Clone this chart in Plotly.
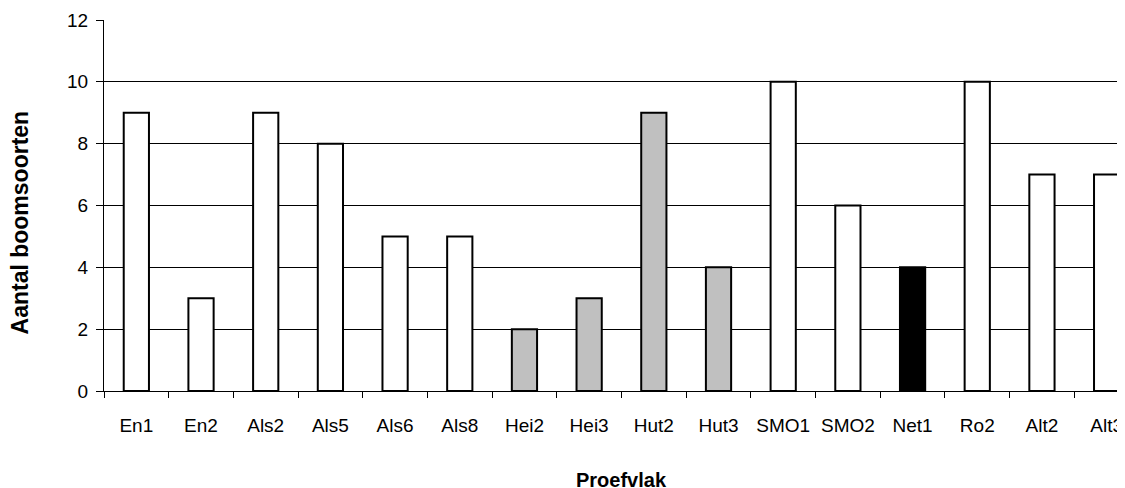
import plotly.graph_objects as go

categories = ["En1", "En2", "Als2", "Als5", "Als6", "Als8", "Hei2", "Hei3",
              "Hut2", "Hut3", "SMO1", "SMO2", "Net1", "Ro2", "Alt2", "Alt3"]
values = [9, 3, 9, 8, 5, 5, 2, 3, 9, 4, 10, 6, 4, 10, 7, 7]
bar_colors = ["#FFFFFF"] * 6 + ["#C0C0C0"] * 4 + ["#FFFFFF"] * 2 + ["#000000"] + ["#FFFFFF"] * 3
y_ticks = [0, 2, 4, 6, 8, 10, 12]

fig = go.Figure(go.Bar(
    x=categories, y=values, width=0.39,
    marker=dict(color=bar_colors, line=dict(color="#000000", width=2)),
))

FONT = "Liberation Sans, Arial, sans-serif"
fig.update_layout(
    width=1117, height=480,
    margin=dict(l=96, r=0, t=12, b=97),
    paper_bgcolor="white", plot_bgcolor="white",
    showlegend=False,
    font=dict(family=FONT, size=19, color="#000000"),
    xaxis=dict(
        type="category", range=[-0.5, 15.284],
        tickson="boundaries", ticks="outside", ticklen=6, tickcolor="#000000",
        showgrid=False, showline=True, linecolor="#000000", linewidth=1,
        tickfont=dict(size=19), ticklabelstandoff=17,
    ),
    yaxis=dict(
        range=[0, 12], tickvals=y_ticks, ticks="outside", ticklen=7,
        tickcolor="#000000", showgrid=True, gridcolor="#000000", gridwidth=1,
        showline=True, linecolor="#000000", linewidth=1, zeroline=False,
        tickfont=dict(size=19), ticklabelstandoff=4,
    ),
    annotations=[
        dict(text="<b>Proefvlak</b>", xref="paper", yref="paper",
             x=0.507, y=-0.24, showarrow=False, font=dict(size=20),
             xanchor="center", yanchor="middle"),
        dict(text="<b>Aantal boomsoorten</b>", xref="paper", yref="paper",
             x=-0.082, y=0.455, textangle=-90, showarrow=False, font=dict(size=23),
             xanchor="center", yanchor="middle"),
    ],
)

fig.write_html("out.html")
